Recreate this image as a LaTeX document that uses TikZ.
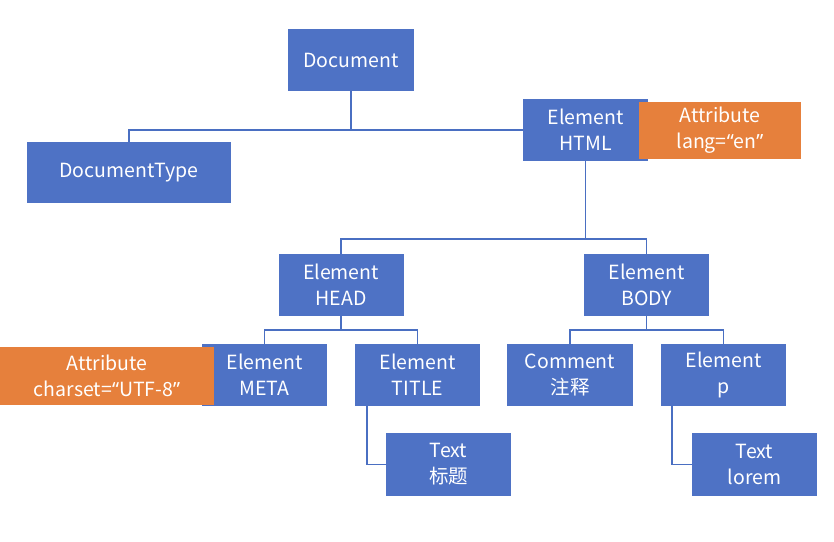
\documentclass[tikz,border=0pt]{standalone}
\usepackage{fontspec}
\setmainfont{Noto Sans CJK SC}
\newfontfamily\qf{Noto Sans}
\newcommand{\myoq}{{\qf “}}
\newcommand{\mycq}{{\qf ”}}
\definecolor{boxblue}{HTML}{4E72C5}
\definecolor{boxorange}{HTML}{E6803C}
\definecolor{lineblue}{HTML}{4A6FC2}
\begin{document}
\begin{tikzpicture}[x=1pt,y=-1pt,
  bbox/.style={fill=boxblue, draw=none, text=white, align=center,
    minimum width=125pt, minimum height=62pt, inner sep=0pt,
    font=\fontsize{19.5}{26}\selectfont},
  obox/.style={bbox, fill=boxorange},
  conn/.style={draw=lineblue, line width=1.3pt}]
\useasboundingbox (0,0) rectangle (834,541);
\fill[white] (0,0) rectangle (834,541);
% blue nodes
\node[bbox, minimum width=126pt] (doc) at (351,60) {Document};
\node[bbox, minimum width=204pt, minimum height=61pt] (dtype) at (129,172.5) {DocumentType};
\node[bbox] (html) at (585.5,130) {Element\\HTML};
\node[bbox] (head) at (341,285) {Element\\HEAD};
\node[bbox] (body) at (646.5,285) {Element\\BODY};
\node[bbox] (meta) at (264.5,375) {Element\\META};
\node[bbox] (title) at (417.5,375) {Element\\TITLE};
\node[bbox, minimum width=126pt] (comment) at (570,375) {Comment\\注释};
\node[bbox] (pel) at (723.5,375) {Element\\p};
\node[bbox, minimum height=63pt] (text1) at (448.5,464.5) {Text\\标题};
\node[bbox, minimum height=63pt] (text2) at (754.5,464.5) {Text\\lorem};
% orange attribute nodes
\node[obox, minimum width=162pt, minimum height=57pt] (lang) at (720,130.5) {Attribute\\lang=\myoq en\mycq};
\node[obox, minimum width=214pt, minimum height=58pt] (charset) at (107,376) {Attribute\\charset=\myoq UTF-8\mycq};
% connectors
\coordinate (dj) at (351,130);
\coordinate (hj) at (585.5,239);
\coordinate (hdj) at (341,330);
\coordinate (bdj) at (646.5,330);
\draw[conn] (doc.south) -- (dj) -- (html.west);
\draw[conn] (dj) -| (dtype.north);
\draw[conn] (html.south) -- (hj);
\draw[conn] (head.north) |- (hj) -| (body.north);
\draw[conn] (head.south) -- (hdj);
\draw[conn] (meta.north) |- (hdj) -| (title.north);
\draw[conn] (body.south) -- (bdj);
\draw[conn] (comment.north) |- (bdj) -| (pel.north);
\draw[conn] ([xshift=-50.5pt]title.south) |- (text1.west);
\draw[conn] ([xshift=-51.5pt]pel.south) |- (text2.west);
\end{tikzpicture}
\end{document}
